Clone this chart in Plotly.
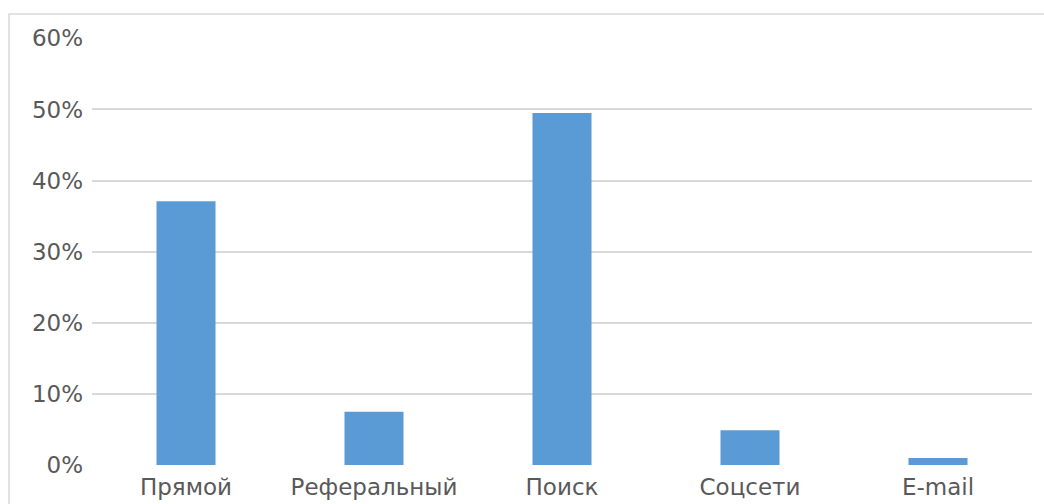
import plotly.graph_objects as go

# Traffic sources and their share of visits
categories = ["Прямой", "Реферальный", "Поиск", "Соцсети", "E-mail"]
shares = [0.371, 0.075, 0.495, 0.049, 0.01]
y_ticks = [0, 0.1, 0.2, 0.3, 0.4, 0.5, 0.6]
y_tick_labels = ["0%", "10%", "20%", "30%", "40%", "50%", "60%"]

W, H = 1044, 504
L, R, T, B = 92, 12, 38, 39
pw, ph = W - L - R, H - T - B

fig = go.Figure(
    go.Bar(
        x=categories,
        y=shares,
        marker=dict(color="#5b9bd5", line=dict(width=0)),
        width=0.314,
    )
)

fig.update_layout(
    width=W,
    height=H,
    margin=dict(l=L, r=R, t=T, b=B),
    paper_bgcolor="white",
    plot_bgcolor="white",
    showlegend=False,
    font=dict(family="DejaVu Sans", size=23, color="#595959"),
    xaxis=dict(
        showgrid=False,
        showline=False,
        ticks="",
        automargin=False,
        tickfont=dict(size=23, color="#595959"),
        ticklabelstandoff=6,
    ),
    yaxis=dict(
        range=[0, 0.6005],
        tickvals=y_ticks,
        ticktext=y_tick_labels,
        showgrid=True,
        gridcolor="#d9d9d9",
        gridwidth=1.5,
        zeroline=False,
        showline=False,
        ticks="",
        automargin=False,
        ticklabelstandoff=8,
        tickfont=dict(size=23, color="#595959"),
    ),
    shapes=[
        # outer chart frame (left and top edges visible)
        dict(
            type="rect",
            xref="paper",
            yref="paper",
            x0=(9 - L) / pw,
            x1=(W + 20 - L) / pw,
            y0=-(B + 20) / ph,
            y1=(H - B - 14) / ph,
            line=dict(color="#d9d9d9", width=1.5),
            fillcolor="rgba(0,0,0,0)",
            layer="below",
        )
    ],
)

fig.write_html("out.html")
